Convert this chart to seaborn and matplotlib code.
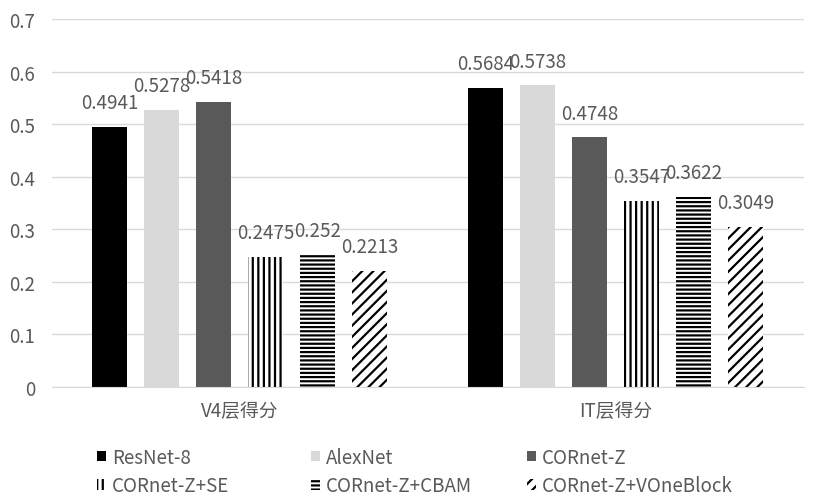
import matplotlib
matplotlib.use("Agg")
import matplotlib.pyplot as plt
import seaborn as sns
import pandas as pd

layers = ["V4层得分", "IT层得分"]
models = ["ResNet-8", "AlexNet", "CORnet-Z", "CORnet-Z+SE", "CORnet-Z+CBAM", "CORnet-Z+VOneBlock"]
v4_scores = [0.4941, 0.5278, 0.5418, 0.2475, 0.252, 0.2213]
it_scores = [0.5684, 0.5738, 0.4748, 0.3547, 0.3622, 0.3049]

colors = ["#000000", "#d9d9d9", "#595959", "white", "white", "white"]
hatches = [None, None, None, "|||", "----", "///"]

rows = []
for m, a, b in zip(models, v4_scores, it_scores):
    rows.append({"layer": layers[0], "model": m, "score": a})
    rows.append({"layer": layers[1], "model": m, "score": b})
df = pd.DataFrame(rows)

sns.set_style("white")
plt.rcParams["font.family"] = ["Noto Sans CJK SC", "DejaVu Sans"]
plt.rcParams["hatch.linewidth"] = 1.6
grey = "#595959"

fig = plt.figure(figsize=(8.2, 5.02), dpi=100)
ax = fig.add_axes([0.063, 0.227, 0.917, 0.733])

sns.barplot(data=df, x="layer", y="score", hue="model", order=layers,
            hue_order=models, palette=colors, width=0.83, gap=0.33,
            legend=False, ax=ax)

for cont, c, h in zip(ax.containers, colors, hatches):
    for p in cont:
        p.set_facecolor(c)
        p.set_linewidth(0)
        if h:
            p.set_hatch(h)
            p.set_edgecolor("black")
    ax.bar_label(cont, fmt="{:g}", padding=10, color=grey, fontsize=13.5)

ax.set_ylim(0, 0.7)
ax.set_yticks([i / 10 for i in range(8)])
ax.set_yticklabels(["0"] + [f"{i/10:g}" for i in range(1, 8)])
ax.set_xlim(-0.5, 1.5)
ax.grid(axis="y", color="#d9d9d9", linewidth=1)
ax.set_axisbelow(True)
for s in ["top", "right", "left"]:
    ax.spines[s].set_visible(False)
ax.spines["bottom"].set_color("#d9d9d9")
ax.tick_params(axis="both", length=0, labelsize=13.5, colors=grey)
ax.tick_params(axis="y", pad=12)
ax.tick_params(axis="x", pad=9)
ax.set_xlabel("")
ax.set_ylabel("")

handles = [plt.Rectangle((0, 0), 1, 1, facecolor=c, hatch=h,
                         edgecolor="black", linewidth=0)
           for c, h in zip(colors, hatches)]
# three legend columns placed like the spreadsheet legend
col_x = [97 / 820, 311 / 820, 527 / 820]
for k, x in enumerate(col_x):
    idx = [k, k + 3]
    leg = fig.legend([handles[i] for i in idx], [models[i] for i in idx],
                     loc="upper left", bbox_to_anchor=(x, 0.108),
                     frameon=False, fontsize=13.5, labelcolor=grey,
                     handlelength=0.5, handleheight=0.5, handletextpad=0.3,
                     labelspacing=0.4, borderaxespad=0, borderpad=0)

fig.savefig("out.png", dpi=100)
